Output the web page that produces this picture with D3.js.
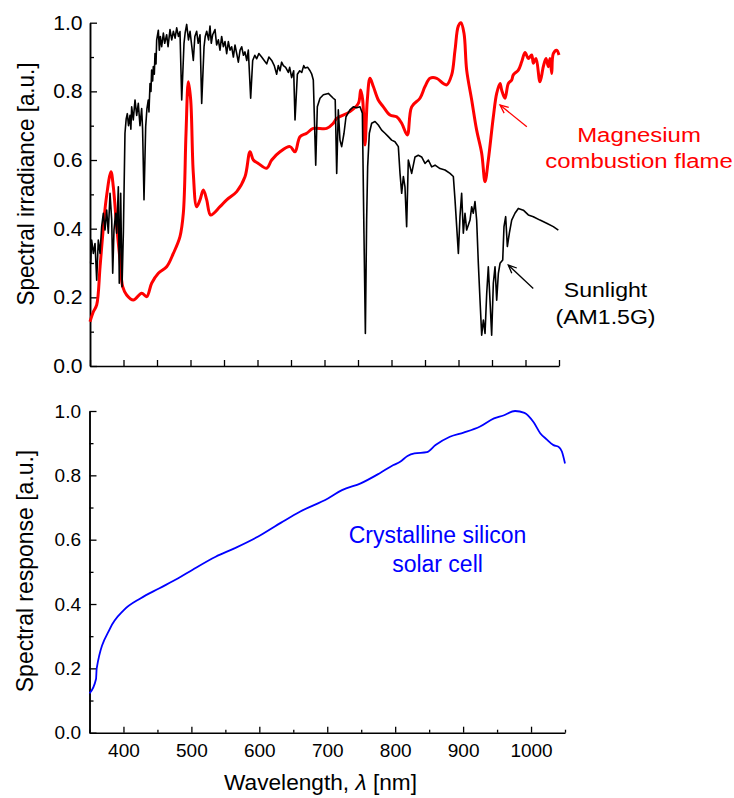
<!DOCTYPE html>
<html>
<head>
<meta charset="utf-8">
<script src="https://cdn.jsdelivr.net/npm/d3@7"></script>
<style>
  html, body { margin: 0; padding: 0; background: #fff; }
  svg { display: block; }
  text { font-family: "Liberation Sans", Arial, sans-serif; }
</style>
</head>
<body>
<svg id="chart" width="734" height="798"></svg>
<script>
// ---------------- DATA ----------------
// Sunlight AM1.5G (normalized spectral irradiance)
const sunWl = [351,352.5,355,357.5,360,362.4,365,367.4,369.9,372.4,374.9,377.3,379.9,382.4,383.9,385.8,388.3,389.8,392.3,393.7,395.8,397.8,399.8,
  402.2,404,405.7,407.5,409.7,411,412.2,414.6,417.2,419.7,422.1,424.6,427.1,428.5,430.6,433.1,435,437,438,439.6,441,442,443.5,444.5,446,447,448.5,449.5,
  452,453.5,455,457,459.5,461.5,464.4,466.5,469.4,472,474.4,477,479.4,482,484.3,486.9,490.3,492,494.3,497,499.3,502,504.2,506.5,509.2,511.5,514.2,516.7,
  520.2,522,524.2,527,529.1,531,533.1,536.6,539,541.6,544,546.5,549,551.5,554,556.5,559,561.4,564,566.4,569,571.4,574,576.4,579,581.3,584,586.3,589.8,
  592.8,596,598.8,602,606.2,610,613.7,617,621.2,625,628.6,631,633.6,636,638.6,642,646,648,651,654,656,659.5,663,666,669,671,675,678.4,681,683.3,686.9,
  689.3,693.3,698.3,705.7,713.1,716,718.2,720.6,723.1,725.6,729.1,732.1,738,743,748,753,756.5,758.9,761,762.9,764.4,766.9,770.4,775.4,780.3,785.3,790.3,
  795.3,800.2,805.2,810.2,812.7,815.2,817.7,820.1,822.6,825.1,830.1,835.1,840,845,850,855,860,865,872.4,879.9,887.3,892.3,894.8,897.3,899.8,902.2,904.7,
  907.2,909.7,912.2,917.2,919.7,922.1,924.6,927.1,929.6,932.1,934.6,937.1,939.6,942.1,944.5,947,949.5,952,954.5,957,959.5,962,966,967.9,970.4,972.9,
  975.9,979.4,984.3,989.3,996.8,1004.2,1011.7,1021.6,1031.6,1041.5,1049];
const sunVal = [0.299,0.367,0.328,0.357,0.25,0.367,0.328,0.406,0.445,0.396,0.454,0.387,0.503,0.425,0.27,0.396,0.445,0.387,0.522,0.241,0.503,0.231,0.387,
  0.678,0.72,0.735,0.70,0.73,0.69,0.755,0.717,0.775,0.73,0.765,0.70,0.75,0.69,0.484,0.697,0.75,0.775,0.74,0.823,0.80,0.862,0.83,0.872,0.85,0.91,0.88,0.949,
  0.978,0.92,0.96,0.93,0.97,0.94,0.965,0.93,0.98,0.95,0.975,0.955,0.985,0.96,0.974,0.775,0.94,0.97,0.995,0.95,0.975,0.93,0.89,0.96,0.975,0.94,0.965,0.765,
  0.93,0.96,0.975,0.95,0.99,0.94,0.965,0.98,0.935,0.95,0.92,0.96,0.93,0.945,0.91,0.945,0.92,0.93,0.90,0.935,0.91,0.885,0.92,0.93,0.905,0.915,0.89,0.92,0.78,
  0.89,0.905,0.895,0.91,0.90,0.89,0.88,0.90,0.89,0.875,0.85,0.875,0.86,0.885,0.875,0.87,0.855,0.87,0.84,0.86,0.717,0.85,0.86,0.855,0.875,0.868,0.87,0.86,0.85,0.833,0.585,
  0.755,0.78,0.79,0.794,0.78,0.775,0.561,0.746,0.658,0.639,0.678,0.726,0.746,0.755,0.752,0.755,0.736,0.387,0.095,0.425,0.58,0.678,0.707,0.712,0.702,0.687,0.678,
  0.668,0.658,0.653,0.639,0.561,0.503,0.552,0.522,0.406,0.6,0.561,0.609,0.614,0.609,0.59,0.6,0.58,0.585,0.575,0.571,0.561,0.552,0.484,0.406,0.328,0.435,0.503,
  0.387,0.445,0.396,0.425,0.464,0.445,0.479,0.425,0.299,0.192,0.09,0.134,0.095,0.211,0.289,0.192,0.09,0.241,0.289,0.192,0.27,0.299,0.309,0.406,0.435,0.348,
  0.387,0.425,0.445,0.459,0.454,0.44,0.435,0.425,0.416,0.406,0.396];

// Magnesium combustion flame (normalized)
const mgWl = [350,355,360,365,370,374,381.3,384.8,389.8,394.8,398.8,404.7,414.7,427.1,434.6,442,452,464.4,474.4,484.3,489.3,493.3,496.8,500.3,504.2,509.2,514.2,519.2,524.2,530.1,544,554,569,581.3,588.8,593.8,601.2,613.7,621.2,633.6,648.5,656,663.4,673.4,683.3,703.2,713.1,718.2,738,750.5,754,757,760.4,763.9,767.9,772.9,780.3,787.8,797.8,807.7,815.2,823.6,830.1,842.5,850,857.5,867.5,877.3,882.4,889.8,894.8,899.7,903.7,908.2,912.2,919.7,927.1,934.6,939.6,944.5,952,957,962,964.4,969.4,974.4,979.4,981.8,989.3,994.3,999.3,1004.2,1009.2,1011.7,1015.7,1021.6,1026.6,1030.6,1034,1036.6,1039.1,1041.5,1046.5,1050];
const mgVal = [0.129,0.158,0.178,0.289,0.406,0.484,0.566,0.522,0.406,0.309,0.231,0.207,0.192,0.212,0.202,0.241,0.27,0.289,0.328,0.377,0.445,0.678,0.828,0.775,0.561,0.464,0.484,0.513,0.484,0.44,0.464,0.484,0.508,0.551,0.624,0.6,0.59,0.576,0.6,0.624,0.639,0.624,0.668,0.678,0.692,0.692,0.707,0.721,0.741,0.765,0.804,0.775,0.644,0.775,0.838,0.814,0.775,0.755,0.731,0.726,0.707,0.673,0.755,0.78,0.814,0.838,0.838,0.823,0.819,0.848,0.92,0.99,1.0,0.969,0.862,0.775,0.687,0.62,0.537,0.6,0.726,0.794,0.823,0.804,0.78,0.823,0.833,0.848,0.862,0.886,0.913,0.896,0.906,0.882,0.896,0.828,0.872,0.896,0.872,0.896,0.852,0.91,0.92,0.906];

// Crystalline silicon solar cell spectral response
const siWl = [350,359.6,360.6,380.5,400.5,425.5,453,480.6,501.3,535.7,563.3,597.7,632.1,659.7,701,721.7,749.2,776.8,797.4,807.3,818.1,828.4,846.6,859.4,880.5,900.7,925,945.5,959.3,976.5,990.3,1004.1,1013.5,1023,1033,1040.4,1045.4,1050];
const siVal = [0.122,0.167,0.2,0.325,0.381,0.418,0.449,0.48,0.506,0.547,0.573,0.609,0.653,0.687,0.728,0.754,0.775,0.806,0.832,0.842,0.86,0.868,0.872,0.894,0.92,0.933,0.952,0.977,0.986,1.0,0.994,0.964,0.931,0.912,0.894,0.889,0.874,0.837];

// Tick values
const xMajorTicks = [400,500,600,700,800,900,1000];
const xMinorTicks = [350,450,550,650,750,850,950,1050];
const yMajorTicks = [0,0.2,0.4,0.6,0.8,1.0];
const yMinorTicks = [0.1,0.3,0.5,0.7,0.9];

// Annotation arrows (data coordinates: [tailWl, tailVal, tipWl, tipVal])
const mgArrow = [1002, 0.697, 962, 0.760];
const sunArrow = [1011.6, 0.226, 974.3, 0.294];

// ---------------- DRAW ----------------
const svg = d3.select("#chart");
const FONT = '"Liberation Sans", Arial, sans-serif';

const topX = d3.scaleLinear().domain([350,1050]).range([90,559]);
const topY = d3.scaleLinear().domain([0,1]).range([366,22.7]);
const botX = d3.scaleLinear().domain([350,1050]).range([89.5,565]);
const botY = d3.scaleLinear().domain([0,1]).range([732.7,411]);

function styleAxis(g, fontSize) {
  g.selectAll("path.domain").attr("stroke","#000").attr("stroke-width",1.5);
  g.selectAll(".tick line").attr("stroke","#000").attr("stroke-width",1.3);
  g.selectAll(".tick text").attr("fill","#000").style("font-family",FONT).style("font-size",fontSize+"px");
}

function label(x, y, str, size, color, anchor, sx, sy, rot) {
  const t = svg.append("text")
    .attr("transform", `translate(${x},${y}) rotate(${rot||0}) scale(${sx||1},${sy||1})`)
    .attr("text-anchor", anchor || "middle")
    .attr("fill", color || "#000")
    .style("font-family", FONT)
    .style("font-size", size + "px");
  return t.text(str);
}

// ---- Top panel axes ----
const topXMinor = svg.append("g").attr("transform",`translate(0,${topY(0)})`)
  .call(d3.axisBottom(topX).tickValues(xMinorTicks).tickSize(-6).tickSizeOuter(0).tickFormat(""));
styleAxis(topXMinor, 20);
const topXMajor = svg.append("g").attr("transform",`translate(0,${topY(0)})`)
  .call(d3.axisBottom(topX).tickValues(xMajorTicks).tickSize(-6).tickSizeOuter(0).tickFormat(""));
styleAxis(topXMajor, 20);
topXMajor.select("path.domain").remove();

const topYMinor = svg.append("g").attr("transform",`translate(${topX(350)},0)`)
  .call(d3.axisLeft(topY).tickValues(yMinorTicks).tickSize(-4).tickSizeOuter(0).tickFormat(""));
styleAxis(topYMinor, 20);
const topYMajor = svg.append("g").attr("transform",`translate(${topX(350)},0)`)
  .call(d3.axisLeft(topY).tickValues(yMajorTicks).tickSize(-7).tickSizeOuter(0).tickPadding(7).tickFormat(d3.format(".1f")));
styleAxis(topYMajor, 20);
topYMajor.selectAll(".tick text").attr("transform","scale(1.06,1)");

// ---- Bottom panel axes ----
const botXMinor = svg.append("g").attr("transform",`translate(0,${botY(0)})`)
  .call(d3.axisBottom(botX).tickValues(xMinorTicks).tickSize(-3).tickSizeOuter(0).tickFormat(""));
styleAxis(botXMinor, 19);
const botXMajor = svg.append("g").attr("transform",`translate(0,${botY(0)})`)
  .call(d3.axisBottom(botX).tickValues(xMajorTicks).tickSize(-6).tickSizeOuter(0).tickPadding(10.5).tickFormat(d3.format("d")));
styleAxis(botXMajor, 19);
botXMajor.select("path.domain").remove();

const botYMinor = svg.append("g").attr("transform",`translate(${botX(350)},0)`)
  .call(d3.axisLeft(botY).tickValues(yMinorTicks).tickSize(-4).tickSizeOuter(0).tickFormat(""));
styleAxis(botYMinor, 19);
const botYMajor = svg.append("g").attr("transform",`translate(${botX(350)},0)`)
  .call(d3.axisLeft(botY).tickValues(yMajorTicks).tickSize(-7).tickSizeOuter(0).tickPadding(8.5).tickFormat(d3.format(".1f")));
styleAxis(botYMajor, 19);

// ---- Lines ----
const topLine = d3.line().x(d => topX(d[0])).y(d => topY(d[1]));
const botLine = d3.line().x(d => botX(d[0])).y(d => botY(d[1])).curve(d3.curveMonotoneX);

svg.append("path").datum(d3.zip(mgWl, mgVal))
  .attr("d", d3.line().x(d => topX(d[0])).y(d => topY(d[1])).curve(d3.curveCatmullRom.alpha(0.5)))
  .attr("fill","none").attr("stroke","#ff0000").attr("stroke-width",3).attr("stroke-linejoin","round");

svg.append("path").datum(d3.zip(sunWl, sunVal))
  .attr("d", topLine)
  .attr("fill","none").attr("stroke","#000").attr("stroke-width",1.6).attr("stroke-linejoin","round");

svg.append("path").datum(d3.zip(siWl, siVal))
  .attr("d", botLine)
  .attr("fill","none").attr("stroke","#0000ff").attr("stroke-width",1.8).attr("stroke-linejoin","round");

// ---- Arrows ----
function arrow(a, color) {
  const x1 = topX(a[0]), y1 = topY(a[1]), x2 = topX(a[2]), y2 = topY(a[3]);
  const ang = Math.atan2(y2 - y1, x2 - x1);
  const L = 9, spread = 0.42;
  svg.append("line").attr("x1",x1).attr("y1",y1).attr("x2",x2).attr("y2",y2)
    .attr("stroke",color).attr("stroke-width",1.3);
  const p = [
    [x2 - L*Math.cos(ang - spread), y2 - L*Math.sin(ang - spread)],
    [x2, y2],
    [x2 - L*Math.cos(ang + spread), y2 - L*Math.sin(ang + spread)]
  ];
  svg.append("path").attr("d", d3.line()(p)).attr("fill","none").attr("stroke",color).attr("stroke-width",1.3);
}
arrow(mgArrow, "#ff0000");
arrow(sunArrow, "#000");

// ---- Labels ----
label(26, 184, "Spectral irradiance [a.u.]", 22, "#000", "middle", 1.02, 1.08, -90).attr("dy","0.35em");
label(24, 571, "Spectral response [a.u.]", 22.5, "#000", "middle", 1.02, 1.09, -90).attr("dy","0.35em");

const xt = label(320.5, 790, "", 22, "#000", "middle", 1.03, 1);
xt.append("tspan").text("Wavelength, ");
xt.append("tspan").style("font-style","italic").text("λ");
xt.append("tspan").text(" [nm]");

label(639, 142, "Magnesium", 21, "#ff0000", "middle", 1.14, 1);
label(639, 168, "combustion flame", 21, "#ff0000", "middle", 1.14, 1);
label(605.5, 297, "Sunlight", 21, "#000", "middle", 1.1, 1);
label(605.5, 324, "(AM1.5G)", 21, "#000", "middle", 1.1, 1);

label(437.5, 543, "Crystalline silicon", 23, "#0000ff", "middle", 1, 1);
label(437.5, 571.5, "solar cell", 23, "#0000ff", "middle", 1, 1);
</script>
</body>
</html>
